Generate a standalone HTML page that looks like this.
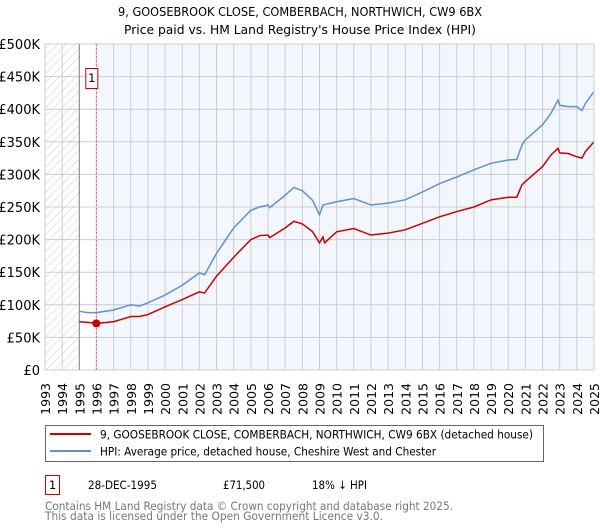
<!DOCTYPE html>
<html><head><meta charset="utf-8"><style>
body{margin:0;background:#fff;font-family:"Liberation Sans","DejaVu Sans",sans-serif;}
svg{display:block}
</style></head><body>
<svg id="chart" width="600" height="530" xmlns="http://www.w3.org/2000/svg" font-family="DejaVu Sans, Liberation Sans, sans-serif">
<defs><pattern id="hatch" width="6" height="6" patternUnits="userSpaceOnUse" patternTransform="rotate(45)"><line x1="0" y1="0" x2="0" y2="6" stroke="#ccc" stroke-width="1"/></pattern></defs>
<text x="300" y="16" text-anchor="middle" font-size="12.5" textLength="364" lengthAdjust="spacingAndGlyphs">9, GOOSEBROOK CLOSE, COMBERBACH, NORTHWICH, CW9 6BX</text>
<text x="300" y="34" text-anchor="middle" font-size="12.5" textLength="352" lengthAdjust="spacingAndGlyphs">Price paid vs. HM Land Registry's House Price Index (HPI)</text>
<g id="plot"></g>
<g>
<rect x="45.5" y="425.5" width="498" height="36" fill="#fff" stroke="#666"/>
<line x1="50" y1="434" x2="91" y2="434" stroke="#cc0000" stroke-width="2"/>
<text x="100" y="438.5" font-size="11.5" textLength="433" lengthAdjust="spacingAndGlyphs">9, GOOSEBROOK CLOSE, COMBERBACH, NORTHWICH, CW9 6BX (detached house)</text>
<line x1="50" y1="451" x2="91" y2="451" stroke="#6090d0" stroke-width="2"/>
<text x="100" y="455.5" font-size="11.5" textLength="336" lengthAdjust="spacingAndGlyphs">HPI: Average price, detached house, Cheshire West and Chester</text>
</g>
<g>
<rect x="45.5" y="475.5" width="14" height="19" fill="#fff" stroke="#cc0000"/>
<text x="52.5" y="489" text-anchor="middle" font-size="11.5">1</text>
<text x="88" y="489" font-size="11.5" textLength="69" lengthAdjust="spacingAndGlyphs">28-DEC-1995</text>
<text x="223" y="489" font-size="11.5" textLength="42" lengthAdjust="spacingAndGlyphs">£71,500</text>
<text x="312" y="489" font-size="11.5" textLength="55" lengthAdjust="spacingAndGlyphs">18% ↓ HPI</text>
</g>
<text x="45" y="510" font-size="11.5" fill="#777" textLength="408" lengthAdjust="spacingAndGlyphs">Contains HM Land Registry data © Crown copyright and database right 2025.</text>
<text x="45" y="520" font-size="11.5" fill="#777" textLength="338" lengthAdjust="spacingAndGlyphs">This data is licensed under the Open Government Licence v3.0.</text>
</svg>
<script>
const hpiYears=[1995,1995.5,1996,1997,1998,1998.5,1999,2000,2001,2002,2002.3,2003,2004,2005,2005.5,2006,2006.1,2007,2007.5,2008,2008.6,2009,2009.2,2010,2011,2012,2013,2014,2015,2016,2017,2018,2019,2020,2020.5,2020.8,2021,2022,2022.5,2022.9,2023,2023.5,2024,2024.3,2024.5,2025];
const hpiValues=[90,88,88,92,100,98,103,115,130,149,146,179,218,245,250,253,249,268,280,275,260,238,253,258,263,253,256,261,273,286,296,307,317,322,323,345,353,376,394,414,406,404,404,398,409,427];
const propYears=[1995,1995.5,1995.99,1997,1998,1998.5,1999,2000,2001,2002,2002.3,2003,2004,2005,2005.5,2006,2006.1,2007,2007.5,2008,2008.6,2009,2009.2,2009.3,2010,2011,2012,2013,2014,2015,2016,2017,2018,2019,2020,2020.5,2020.8,2021,2022,2022.5,2022.9,2023,2023.5,2024,2024.3,2024.5,2025];
const propValues=[74,73,71.5,74,82,82,85,97,108,120,118,144,173,200,206,207,203,218,228,224,212,195,204,195,212,217,207,210,215,225,235,243,250,261,265,265,284,289,312,330,340,333,332,327,325,335,350];
const saleYear=1995.99, saleValue=71.5;
const yTicks=[0,50,100,150,200,250,300,350,400,450,500];
const yTickLabels=["£0","£50K","£100K","£150K","£200K","£250K","£300K","£350K","£400K","£450K","£500K"];
const xTickYears=[1993,1994,1995,1996,1997,1998,1999,2000,2001,2002,2003,2004,2005,2006,2007,2008,2009,2010,2011,2012,2013,2014,2015,2016,2017,2018,2019,2020,2021,2022,2023,2024,2025];

const L=45,R=594,T=44,B=370;
const xs=y=>L+(y-1993)*(R-L)/32;
const ys=v=>B-v*(B-T)/500;
const NS="http://www.w3.org/2000/svg";
const g=document.getElementById('plot');
function mk(tag,attrs){const e=document.createElementNS(NS,tag);for(const k in attrs)e.setAttribute(k,attrs[k]);g.appendChild(e);return e;}
let e;
e=mk('rect',{x:xs(saleYear),y:T,width:R-xs(saleYear),height:B-T,fill:'#f3f7fd'});


e=mk('rect',{x:L,y:T,width:xs(1995)-L,height:B-T,fill:'url(#hatch)'});


yTicks.forEach((t,i)=>{
 e=mk('line',{x1:L,x2:R,y1:ys(t),y2:ys(t),stroke:'#ccc','stroke-width':1});
 
 
 e=mk('text',{x:40,y:ys(t)+5,'text-anchor':'end','font-size':13});
 e.textContent=yTickLabels[i];
 
 
});
xTickYears.forEach(yr=>{
 e=mk('line',{x1:xs(yr),x2:xs(yr),y1:T,y2:B,stroke:'#ccc','stroke-width':1});
 
 
 const x=xs(yr)+5;
 e=mk('text',{x:x,y:383,'text-anchor':'end','font-size':12.5,transform:`rotate(-90 ${x} 383)`});
 e.textContent=yr;
 
 
});
e=mk('line',{x1:xs(1995),x2:xs(1995),y1:T,y2:B,stroke:'#888','stroke-width':1});


e=mk('line',{x1:xs(saleYear),x2:xs(saleYear),y1:T,y2:B,stroke:'#e06060','stroke-width':1,'stroke-dasharray':'2,2'});


e=mk('polyline',{points:hpiYears.map((y,i)=>xs(y)+','+ys(hpiValues[i])).join(' '),fill:'none',stroke:'#6090d0','stroke-width':1.5});


e=mk('polyline',{points:propYears.map((y,i)=>xs(y)+','+ys(propValues[i])).join(' '),fill:'none',stroke:'#cc0000','stroke-width':1.5});


e=mk('circle',{cx:xs(saleYear),cy:ys(saleValue),r:4,fill:'#cc0000'});


e=mk('rect',{x:xs(saleYear)-10.5,y:68.5,width:12,height:20,fill:'#fff',stroke:'#cc0000'});


e=mk('text',{x:xs(saleYear)-4.5,y:82,'text-anchor':'middle','font-size':11.5});
e.textContent='1';


e=mk('line',{x1:R,x2:R,y1:T,y2:B,stroke:'#ccc'});


</script>
</body></html>
